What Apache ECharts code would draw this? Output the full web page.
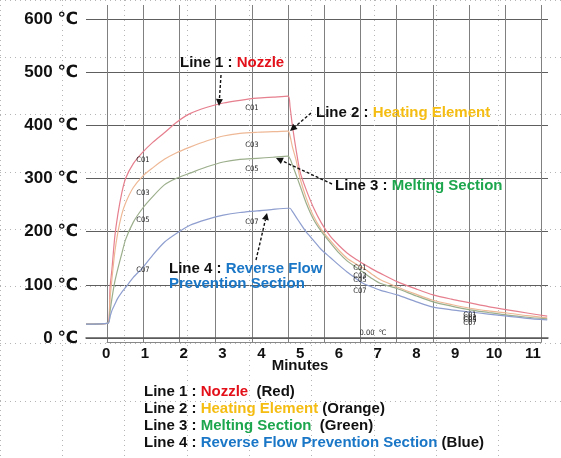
<!DOCTYPE html>
<html>
<head>
<meta charset="utf-8">
<script src="https://cdn.jsdelivr.net/npm/echarts@6/dist/echarts.min.js"></script>
</head>
<body style="margin:0;background:#fff">
<div id="main" style="width:561px;height:458px;"></div>
<script type="text/javascript">
// sample times (minutes) shared by all four recorder traces
var minutes = [-0.52, 0.05, 0.1, 0.15, 0.22, 0.3, 0.4, 0.5, 0.7, 0.95, 1.2, 1.5, 1.8, 2.16, 2.6, 3.02, 3.45, 3.89, 4.3, 4.69,
               4.74, 4.8, 4.9, 5.0, 5.15, 5.34, 5.55, 5.77, 6.0, 6.21, 6.42, 6.62, 6.85, 7.06, 7.5, 8.0, 8.43, 8.9, 9.38, 9.85, 10.34, 10.85, 11.37];
var nozzle  = [26, 28, 95, 130, 189, 232, 272, 300, 328, 350, 368, 386, 405, 422, 434, 442, 447, 451, 453, 455,
               435, 400, 352, 312, 280, 246, 216, 192, 174, 160, 149, 140, 130, 122, 106, 92, 81, 73, 66, 59, 53, 47, 41];
var heating = [26, 28, 75, 112, 160, 198, 232, 254, 283, 305, 320, 336, 348, 359, 371, 380, 385, 387, 388, 389,
               380, 360, 333, 300, 265, 230, 204, 184, 165, 150, 140, 132, 120, 110, 96, 82, 71, 63, 56, 51, 47, 42, 38];
var melting = [26, 28, 50, 75, 105, 130, 158, 185, 218, 245, 266, 288, 300, 310, 322, 331, 336, 338, 340, 342,
               337, 326, 306, 286, 255, 224, 200, 180, 160, 145, 134, 124, 112, 103, 93, 79, 68, 60, 53, 48, 43, 39, 36];
var reverse = [26, 28, 40, 52, 63, 75, 86, 95, 114, 133, 156, 180, 196, 212, 223, 231, 236, 239, 242, 244,
               244, 238, 227, 216, 200, 184, 166, 152, 137, 124, 113, 103, 96, 90, 81, 68, 58, 53, 49, 45, 41, 37, 34];
var xTicks = [0, 1, 2, 3, 4, 5, 6, 7, 8, 9, 10, 11];

var FONT = '"Liberation Sans", Arial, "DejaVu Sans", sans-serif';
var RED = '#e3101a', ORANGE = '#f5bd12', GREEN = '#1ea64e', BLUE = '#1a76c6';

function pairs(ys) {
    return minutes.map(function (m, i) { return [m, ys[i]]; });
}

function trace(name, ys, color) {
    return {
        name: name, type: 'line', data: pairs(ys),
        xAxisIndex: 0, yAxisIndex: 0,
        showSymbol: false, symbol: 'none',
        smooth: 0.25,
        lineStyle: { color: color, width: 1.2 },
        silent: true, z: 3
    };
}

function rich(size) {
    var base = { fontSize: size, fontWeight: 'bold', fontFamily: FONT };
    function c(col) { return Object.assign({ fill: col }, base); }
    return { k: c('#111'), r: c(RED), o: c(ORANGE), g: c(GREEN), b: c(BLUE) };
}

function label(text, x, y, size) {
    return {
        type: 'text', x: x, y: y, z: 20,
        style: { text: text, rich: rich(size), fontSize: size, fontWeight: 'bold',
                 fontFamily: FONT, verticalAlign: 'middle', lineHeight: size }
    };
}

function arrow(x1, y1, x2, y2) {
    var dx = x2 - x1, dy = y2 - y1, len = Math.sqrt(dx * dx + dy * dy);
    var ux = dx / len, uy = dy / len, hl = 7, hw = 3.5;
    var bx = x2 - ux * hl, by = y2 - uy * hl;
    return [{
        type: 'line', z: 20,
        shape: { x1: x1, y1: y1, x2: bx, y2: by },
        style: { stroke: '#111', lineWidth: 1.4, lineDash: [3, 2] }
    }, {
        type: 'polygon', z: 20,
        shape: { points: [[x2, y2], [bx - uy * hw, by + ux * hw], [bx + uy * hw, by - ux * hw]] },
        style: { fill: '#111' }
    }];
}

// tiny channel tags printed by the recorder
var tagLayout = [
    ['C01', 143, 160], ['C03', 143, 193], ['C05', 143, 220], ['C07', 143, 270],
    ['C01', 252, 108], ['C03', 252, 145], ['C05', 252, 169], ['C07', 252, 222],
    ['C01', 360, 268], ['C03', 360, 276], ['C05', 360, 280], ['C07', 360, 291],
    ['C01', 470, 315], ['C03', 470, 318], ['C05', 470, 320], ['C07', 470, 323],
    ['0.00  \u2103', 373, 333]
];

var graphics = [];
tagLayout.forEach(function (t) {
    graphics.push({
        type: 'text', x: t[1], y: t[2], z: 15,
        style: { text: t[0], fontSize: 7.5, fontFamily: '"DejaVu Sans Condensed", "DejaVu Sans", sans-serif',
                 fill: '#222', align: 'center', verticalAlign: 'middle' }
    });
});

graphics.push(label('{k|Line 1 : }{r|Nozzle}', 180, 63, 15));
graphics.push(label('{k|Line 2 : }{o|Heating Element}', 316, 113, 15));
graphics.push(label('{k|Line 3 : }{g|Melting Section}', 335, 186, 15));
graphics.push(label('{k|Line 4 : }{b|Reverse Flow}\n{b|Prevention Section}', 169, 276, 15));
graphics = graphics.concat(arrow(221, 75, 219, 106));
graphics = graphics.concat(arrow(311, 113, 290, 131));
graphics = graphics.concat(arrow(332, 184, 276, 158));
graphics = graphics.concat(arrow(256, 260, 267, 213));

graphics.push({
    type: 'text', x: 300, y: 366, z: 20,
    style: { text: 'Minutes', fontSize: 15, fontWeight: 'bold', fontFamily: FONT,
             fill: '#111', align: 'center', verticalAlign: 'middle' }
});

graphics.push(label('{k|Line 1 : }{r|Nozzle}{k|  (Red)}', 144, 392, 15));
graphics.push(label('{k|Line 2 : }{o|Heating Element}{k| (Orange)}', 144, 409, 15));
graphics.push(label('{k|Line 3 : }{g|Melting Section}{k|  (Green)}', 144, 426, 15));
graphics.push(label('{k|Line 4 : }{b|Reverse Flow Prevention Section}{k| (Blue)}', 144, 443, 15));

var myChart = echarts.init(document.getElementById('main'));

var option = {
    animation: false,
    backgroundColor: '#fff',
    grid: [
        { left: 86, right: 13, top: 19, bottom: 120 },
        { left: 107, right: 19.6, top: 5, bottom: 116 },
        { left: -34.3, right: -10.4, top: -39, bottom: -47 }
    ],
    xAxis: [{
        gridIndex: 0, type: 'value', min: -0.52, max: 11.39,
        axisLine: { show: true, lineStyle: { color: '#5a5a5a', width: 1.5 } },
        axisTick: { show: false },
        splitLine: { show: false },
        axisLabel: { customValues: xTicks, color: '#111', fontSize: 15, fontWeight: 'bold',
                     fontFamily: FONT, margin: 8 }
    }, {
        gridIndex: 1, type: 'value', min: 0, max: 12, interval: 1,
        axisLine: { show: true, lineStyle: { color: '#888', width: 1 } },
        axisTick: { show: false }, axisLabel: { show: false },
        splitLine: { show: true, lineStyle: { color: '#808080', width: 1 } }
    }, {
        gridIndex: 2, type: 'value', min: 0, max: 9, interval: 1,
        axisLine: { show: false }, axisTick: { show: false }, axisLabel: { show: false },
        splitLine: { show: true, lineStyle: { color: '#b5b5b5', width: 1, type: [1, 4] } }
    }],
    yAxis: [{
        gridIndex: 0, type: 'value', min: 0, max: 600, interval: 100,
        axisLine: { show: false }, axisTick: { show: false },
        splitLine: { show: true, lineStyle: { color: '#5e5e5e', width: 1.2 } },
        axisLabel: { formatter: '{value} \u2103', color: '#111', fontSize: 17, fontWeight: 'bold',
                     fontFamily: FONT, margin: 8 }
    }, {
        gridIndex: 1, type: 'value', min: 0, max: 1, show: false
    }, {
        gridIndex: 2, type: 'value', min: 0, max: 8, interval: 1,
        axisLine: { show: false }, axisTick: { show: false }, axisLabel: { show: false },
        splitLine: { show: true, lineStyle: { color: '#b5b5b5', width: 1, type: [1, 4] } }
    }],
    series: [
        trace('Nozzle', nozzle, '#e67f8e'),
        trace('Heating Element', heating, '#eeb896'),
        trace('Melting Section', melting, '#9caf8c'),
        trace('Reverse Flow Prevention Section', reverse, '#8e9ecf')
    ],
    graphic: graphics
};
myChart.setOption(option);
</script>
</body>
</html>
